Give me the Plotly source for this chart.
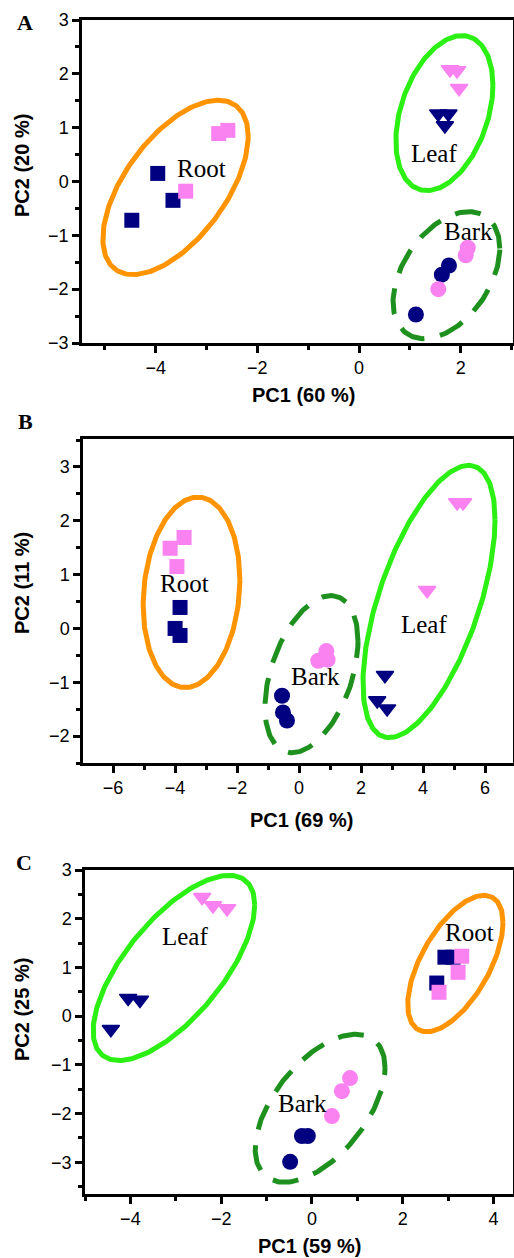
import numpy as np
import plotly.graph_objects as go

# ---------------- data (PC scores) ----------------
# Panel A
a_root_navy_x = [-4.47, -3.96, -3.66]
a_root_navy_y = [-0.72, 0.15, -0.35]
a_root_pink_x = [-2.76, -2.58, -3.41]
a_root_pink_y = [0.89, 0.95, -0.18]
a_leaf_navy_x = [1.56, 1.76, 1.69]
a_leaf_navy_y = [1.26, 1.26, 1.04]
a_leaf_pink_x = [1.79, 1.93, 1.97]
a_leaf_pink_y = [2.08, 2.06, 1.73]
a_bark_navy_x = [1.12, 1.63, 1.77]
a_bark_navy_y = [-2.47, -1.73, -1.56]
a_bark_pink_x = [1.56, 2.14, 2.10]
a_bark_pink_y = [-2.00, -1.23, -1.37]

# Panel B
b_root_navy_x = [-3.84, -4.00, -3.84]
b_root_navy_y = [0.39, 0.00, -0.13]
b_root_pink_x = [-4.16, -3.71, -3.94]
b_root_pink_y = [1.49, 1.69, 1.15]
b_leaf_navy_x = [2.77, 2.52, 2.84]
b_leaf_navy_y = [-0.87, -1.34, -1.49]
b_leaf_pink_x = [5.10, 5.29, 4.13]
b_leaf_pink_y = [2.34, 2.34, 0.71]
b_bark_navy_x = [-0.55, -0.52, -0.39]
b_bark_navy_y = [-1.25, -1.56, -1.71]
b_bark_pink_x = [0.88, 0.62, 0.92]
b_bark_pink_y = [-0.42, -0.60, -0.58]

# Panel C
c_root_navy_x = [2.93, 3.11, 2.75]
c_root_navy_y = [1.21, 1.21, 0.68]
c_root_pink_x = [3.30, 3.22, 2.80]
c_root_pink_y = [1.23, 0.90, 0.49]
c_leaf_navy_x = [-4.05, -3.79, -4.43]
c_leaf_navy_y = [0.37, 0.33, -0.27]
c_leaf_pink_x = [-2.42, -2.18, -1.87]
c_leaf_pink_y = [2.44, 2.27, 2.21]
c_bark_navy_x = [-0.22, -0.09, -0.48]
c_bark_navy_y = [-2.46, -2.46, -2.99]
c_bark_pink_x = [0.84, 0.66, 0.44]
c_bark_pink_y = [-1.27, -1.54, -2.05]

# group ellipses: (cx, cy, half-width, half-height, tilt factor)
a_ellipses = {"Root": (-3.61, -0.11, 1.43, 1.62, 0.586),
              "Leaf": (1.68, 1.27, 0.955, 1.44, 0.36),
              "Bark": (1.72, -1.74, 1.05, 1.18, 0.42)}
b_ellipses = {"Root": (-3.47, 0.67, 1.56, 1.77, 0.13),
              "Leaf": (4.19, 0.50, 2.13, 2.53, 0.60),
              "Bark": (0.40, -0.85, 1.50, 1.46, 0.42)}
c_ellipses = {"Root": (3.16, 1.08, 1.05, 1.40, 0.60),
              "Leaf": (-3.04, 0.99, 1.78, 1.90, 0.68),
              "Bark": (0.18, -1.89, 1.43, 1.52, 0.55)}

# group label positions
a_labels = {"Root": (-3.10, 0.24), "Leaf": (1.48, 0.52), "Bark": (2.15, -0.93)}
b_labels = {"Root": (-3.71, 0.84), "Leaf": (4.03, 0.07), "Bark": (0.52, -0.89)}
c_labels = {"Root": (3.48, 1.72), "Leaf": (-2.80, 1.64), "Bark": (-0.20, -1.80)}

panel_letters = ["A", "B", "C"]
x_titles = ["PC1 (60 %)", "PC1 (69 %)", "PC1 (59 %)"]
y_titles = ["PC2 (20 %)", "PC2 (11 %)", "PC2 (25 %)"]

# ---------------- styling ----------------
NAVY = "#000080"
PINK = "#F982F0"
ELL_STYLE = {"Root": dict(color="#FF9300", dash="solid"),
             "Leaf": dict(color="#2CEF14", dash="solid"),
             "Bark": dict(color="#1E901E", dash="26px,16px")}
SYMBOL = {"Root": "square", "Leaf": "triangle-down", "Bark": "circle"}
MSIZE = {"Root": 15, "Leaf": 15, "Bark": 16}
MLINE = {"Root": 0, "Leaf": 1.5, "Bark": 0}

W, H = 514, 1258
# plot-area pixel boxes (left, right, top, bottom)
boxes = [(82, 513, 20, 343), (83, 513, 439, 763), (85, 513, 870, 1194)]
x_ranges = [[-5.45, 3.03], [-6.97, 6.90], [-5.0, 4.43]]
y_ranges = [[-3.0, 3.0], [-2.5, 3.52], [-3.65, 3.0]]

fig = go.Figure()

panels = [
    dict(ell=a_ellipses, lab=a_labels, pts={
        "Root": (a_root_navy_x, a_root_navy_y, a_root_pink_x, a_root_pink_y),
        "Leaf": (a_leaf_navy_x, a_leaf_navy_y, a_leaf_pink_x, a_leaf_pink_y),
        "Bark": (a_bark_navy_x, a_bark_navy_y, a_bark_pink_x, a_bark_pink_y)}),
    dict(ell=b_ellipses, lab=b_labels, pts={
        "Root": (b_root_navy_x, b_root_navy_y, b_root_pink_x, b_root_pink_y),
        "Leaf": (b_leaf_navy_x, b_leaf_navy_y, b_leaf_pink_x, b_leaf_pink_y),
        "Bark": (b_bark_navy_x, b_bark_navy_y, b_bark_pink_x, b_bark_pink_y)}),
    dict(ell=c_ellipses, lab=c_labels, pts={
        "Root": (c_root_navy_x, c_root_navy_y, c_root_pink_x, c_root_pink_y),
        "Leaf": (c_leaf_navy_x, c_leaf_navy_y, c_leaf_pink_x, c_leaf_pink_y),
        "Bark": (c_bark_navy_x, c_bark_navy_y, c_bark_pink_x, c_bark_pink_y)}),
]

t = np.linspace(0, 2 * np.pi, 241)
annotations = []
for i, p in enumerate(panels):
    xa = "x" if i == 0 else f"x{i+1}"
    ya = "y" if i == 0 else f"y{i+1}"
    # ellipses
    for g, (cx, cy, hw, hh, r) in p["ell"].items():
        psi = np.arccos(r)
        ex = cx + hw * np.cos(t)
        ey = cy + hh * np.cos(t - psi)
        st = ELL_STYLE[g]
        fig.add_trace(go.Scatter(x=ex, y=ey, mode="lines", xaxis=xa, yaxis=ya,
                                 line=dict(color=st["color"], width=5, dash=st["dash"]),
                                 hoverinfo="skip", showlegend=False))
    # points
    for g, (nx, ny, px, py) in p["pts"].items():
        for xs, ys, col in ((nx, ny, NAVY), (px, py, PINK)):
            fig.add_trace(go.Scatter(x=xs, y=ys, mode="markers", xaxis=xa, yaxis=ya,
                                     marker=dict(symbol=SYMBOL[g], size=MSIZE[g], color=col,
                                                 line=dict(width=MLINE[g], color=col)),
                                     showlegend=False))
    # group labels
    for g, (lx, ly) in p["lab"].items():
        annotations.append(dict(x=lx, y=ly, xref=xa, yref=ya, text=g, showarrow=False,
                                font=dict(family="Liberation Serif", size=25, color="black"),
                                xanchor="center", yanchor="middle"))

layout = dict(width=W, height=H,
              margin=dict(l=0, r=0, t=0, b=0, pad=0, autoexpand=False),
              plot_bgcolor="white", paper_bgcolor="white", showlegend=False)

tickfont = dict(family="Liberation Sans", size=18, color="black")
for i in range(3):
    l, rgt, top, bot = boxes[i]
    xkey = "xaxis" if i == 0 else f"xaxis{i+1}"
    ykey = "yaxis" if i == 0 else f"yaxis{i+1}"
    xa = "x" if i == 0 else f"x{i+1}"
    ya = "y" if i == 0 else f"y{i+1}"
    common = dict(showline=True, linecolor="black", linewidth=2.5, mirror=True,
                  ticks="outside", ticklen=7, tickwidth=2.5, tickcolor="black",
                  showgrid=False, zeroline=False, tickfont=tickfont, automargin=False)
    layout[xkey] = dict(domain=[l / W, rgt / W], range=x_ranges[i], anchor=ya,
                        dtick=2, tick0=0,
                        minor=dict(dtick=1, ticklen=4, tickwidth=2.5, ticks="outside",
                                   tickcolor="black", showgrid=False), **common)
    layout[ykey] = dict(domain=[1 - bot / H, 1 - top / H], range=y_ranges[i], anchor=xa,
                        dtick=1, tick0=0,
                        minor=dict(dtick=0.5, ticklen=4, tickwidth=2.5, ticks="outside",
                                   tickcolor="black", showgrid=False), **common)

# axis titles and panel letters (pixel-centred positions)
xt_pos = [(303, 395), (301, 820), (309, 1246)]
yt_pos = [(22, 166), (22, 583), (22, 1010)]
letter_pos = [(25, 22), (25, 421), (24, 863)]
for i in range(3):
    annotations.append(dict(x=xt_pos[i][0] / W, y=1 - xt_pos[i][1] / H, xref="paper", yref="paper",
                            text=f"<b>{x_titles[i]}</b>", showarrow=False,
                            font=dict(family="Liberation Sans", size=20, color="black"),
                            xanchor="center", yanchor="middle"))
    annotations.append(dict(x=yt_pos[i][0] / W, y=1 - yt_pos[i][1] / H, xref="paper", yref="paper",
                            text=f"<b>{y_titles[i]}</b>", showarrow=False, textangle=-90,
                            font=dict(family="Liberation Sans", size=20, color="black"),
                            xanchor="center", yanchor="middle"))
    annotations.append(dict(x=letter_pos[i][0] / W, y=1 - letter_pos[i][1] / H, xref="paper", yref="paper",
                            text=f"<b>{panel_letters[i]}</b>", showarrow=False,
                            font=dict(family="Liberation Serif", size=22, color="black"),
                            xanchor="center", yanchor="middle"))

layout["annotations"] = annotations
fig.update_layout(**layout)
fig.write_html("out.html", config={"displayModeBar": False},
               post_script="document.body.style.margin='0';document.body.style.overflow='hidden';")
